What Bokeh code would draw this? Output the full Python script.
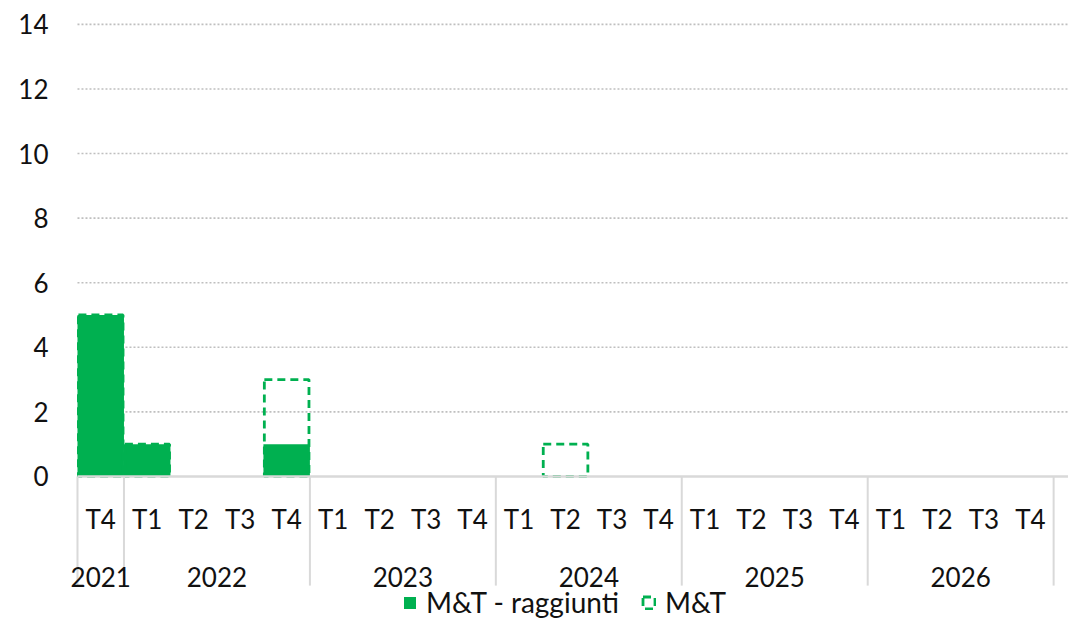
from bokeh.plotting import figure
from bokeh.models import Range1d, FixedTicker, Legend, LegendItem, ColumnDataSource
from bokeh.core.properties import value
from bokeh.embed import file_html
from bokeh.resources import INLINE

# ---- data ----
years = ["2021", "2022", "2023", "2024", "2025", "2026"]
quarters_per_year = [["T4"], ["T1", "T2", "T3", "T4"], ["T1", "T2", "T3", "T4"],
                     ["T1", "T2", "T3", "T4"], ["T1", "T2", "T3", "T4"], ["T1", "T2", "T3", "T4"]]
raggiunti = [5, 1, 0, 0, 1, 0, 0, 0, 0, 0, 0, 0, 0, 0, 0, 0, 0, 0, 0, 0, 0]
mt_target = [5, 1, 0, 0, 3, 0, 0, 0, 0, 0, 1, 0, 0, 0, 0, 0, 0, 0, 0, 0, 0]
y_ticks = [0, 2, 4, 6, 8, 10, 12, 14]

GREEN = "#00B050"
FONT = "Lato"
FS = "26px"
TXT = "#111111"
SEP = "#d9d9d9"
X_START, X_END = -0.973, 20.82

quarters = [q for qs in quarters_per_year for q in qs]
n = len(quarters)
idx = list(range(n))

p = figure(width=1068, height=619, x_range=Range1d(X_START, X_END), y_range=Range1d(-4.43, 14.74),
           output_backend="svg", toolbar_location=None, x_axis_location=None,
           min_border_left=55, min_border_right=0, min_border_top=0, min_border_bottom=0)
p.outline_line_color = None
p.background_fill_color = "white"
p.xgrid.visible = False
p.ygrid.visible = False

# y axis
p.yaxis.ticker = FixedTicker(ticks=y_ticks)
p.yaxis.axis_line_color = None
p.yaxis.major_tick_line_color = None
p.yaxis.minor_tick_line_color = None
p.yaxis.major_tick_out = 0
p.yaxis.major_label_standoff = 7
p.yaxis.major_label_text_font = FONT
p.yaxis.major_label_text_font_size = FS
p.yaxis.major_label_text_color = TXT

# dotted horizontal gridlines (start at the first category edge)
grid_y = [t for t in y_ticks if t > 0]
p.segment(x0=[-0.5] * len(grid_y), y0=grid_y, x1=[X_END] * len(grid_y), y1=grid_y,
          line_color="#bfbfbf", line_width=1.6, line_dash="2 2")

# bars
src_r = ColumnDataSource(dict(x=[i for i, v in zip(idx, raggiunti) if v > 0],
                              top=[v for v in raggiunti if v > 0]))
src_m = ColumnDataSource(dict(x=[i for i, v in zip(idx, mt_target) if v > 0],
                              top=[v for v in mt_target if v > 0]))
r1 = p.vbar(x="x", top="top", width=1.0, bottom=0, source=src_r,
            fill_color=GREEN, line_color=None)
r2 = p.vbar(x="x", top="top", width=0.96, bottom=0, source=src_m,
            fill_color=None, line_color=GREEN, line_width=2.8, line_dash="8 5")

# axis line at 0
p.segment(x0=[-0.5], y0=[0], x1=[X_END], y1=[0], line_color=SEP, line_width=2.5)

# separators between years
bounds = [-0.5]
acc = -0.5
for qs in quarters_per_year:
    acc += len(qs)
    bounds.append(acc)
p.segment(x0=bounds, y0=[0] * len(bounds), x1=bounds, y1=[-3.38] * len(bounds),
          line_color=SEP, line_width=2)

# quarter labels
p.text(x=idx, y=[-1.33] * n, text=quarters, text_align="center", text_baseline="middle",
       text_font=value(FONT), text_font_size=FS, text_color=TXT)

# year labels
year_x = []
start = -0.5
for qs in quarters_per_year:
    year_x.append(start + len(qs) / 2.0)
    start += len(qs)
p.text(x=year_x, y=[-3.1] * len(years), text=years, text_align="center", text_baseline="middle",
       text_font=value(FONT), text_font_size=FS, text_color=TXT)

legend = Legend(items=[LegendItem(label="M&T - raggiunti", renderers=[r1]),
                       LegendItem(label="M&T", renderers=[r2])],
                orientation="horizontal", location=(347, 0))
legend.label_text_font = FONT
legend.label_text_font_size = "28px"
legend.label_text_color = TXT
legend.glyph_width = 15
legend.glyph_height = 15
legend.label_standoff = 9
legend.spacing = 22
legend.padding = 0
legend.margin = 0
legend.background_fill_alpha = 0
legend.border_line_alpha = 0
p.add_layout(legend, "center")

open("out.html", "w").write(file_html(p, INLINE))
